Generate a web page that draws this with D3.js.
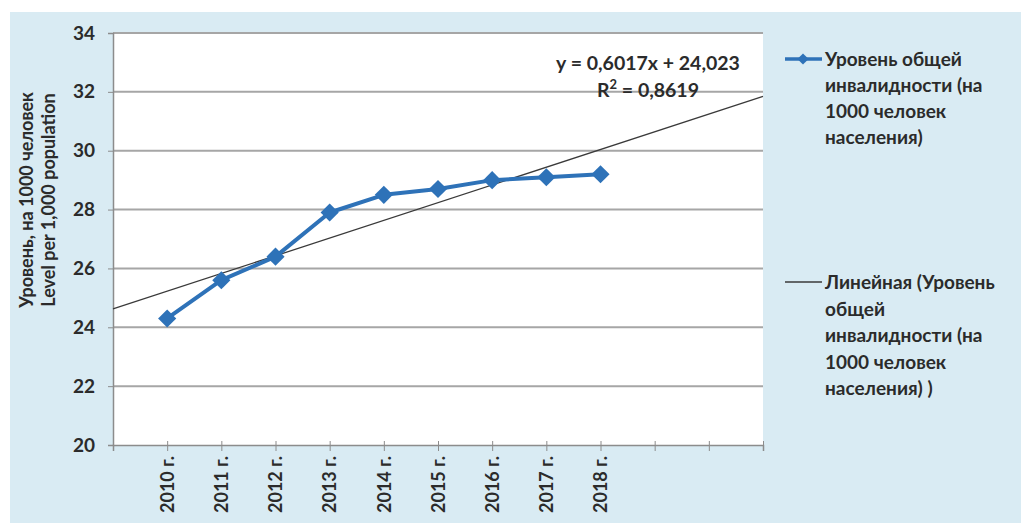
<!DOCTYPE html>
<html>
<head>
<meta charset="utf-8">
<script src="https://cdn.jsdelivr.net/npm/d3@7"></script>
<style>
  html, body { margin: 0; padding: 0; background: #ffffff; }
  svg { display: block; }
  text { font-family: Lato, "Noto Sans", sans-serif; fill: #2b2b2b; }
</style>
</head>
<body>
<svg id="chart" width="1021" height="523"></svg>
<script>
// Categories along the x axis (two trailing slots are empty)
const categories = ["2010 г.", "2011 г.", "2012 г.", "2013 г.", "2014 г.", "2015 г.", "2016 г.", "2017 г.", "2018 г.", "", ""];
// Overall disability level per 1000 population
const values = [24.3, 25.6, 26.4, 27.9, 28.5, 28.7, 29.0, 29.1, 29.2];
// Linear trend y = a*x + b, as printed on the chart
const trendSlope = 0.6017;
const trendIntercept = 24.023;
const trendR2 = 0.8619;
const yTicks = [20, 22, 24, 26, 28, 30, 32, 34];
const yTitle = ["Уровень, на 1000 человек", "Level per 1,000 population"];
const legendSeries = ["Уровень общей", "инвалидности (на", "1000 человек", "населения)"];
const legendTrend = ["Линейная (Уровень", "общей", "инвалидности (на", "1000 человек", "населения) )"];

const svg = d3.select("#chart");
const W = 1021, H = 523;
const plot = { left: 113, right: 763, top: 33, bottom: 445 };
const blue = "#2e72b8";
const font = "Lato, 'Noto Sans', sans-serif";

// panel background
svg.append("rect").attr("x", 10).attr("y", 12).attr("width", W - 10).attr("height", H - 12)
  .attr("fill", "#d9ebf3");
svg.append("rect").attr("x", plot.left).attr("y", plot.top)
  .attr("width", plot.right - plot.left).attr("height", plot.bottom - plot.top)
  .attr("fill", "#ffffff");

// positions 0..12 along the axis; data sits on slots 1..9
const x = d3.scaleLinear().domain([0, categories.length + 1]).range([plot.left, plot.right]);
const y = d3.scaleLinear().domain([20, 34]).range([plot.bottom, plot.top]);

// horizontal gridlines
svg.append("g").selectAll("line").data(yTicks.filter(t => t > 20)).join("line")
  .attr("x1", plot.left).attr("x2", plot.right)
  .attr("y1", d => y(d)).attr("y2", d => y(d))
  .attr("stroke", "#a6a6a6").attr("stroke-width", 2);

// y axis
const yAxis = svg.append("g").attr("transform", `translate(${plot.left},0)`)
  .call(d3.axisLeft(y).tickValues(yTicks).tickSize(5).tickPadding(13));
yAxis.select(".domain").attr("stroke", "#8c8c8c").attr("stroke-width", 1.5);
yAxis.selectAll(".tick line").attr("stroke", "#8c8c8c");
yAxis.selectAll(".tick text").attr("font-size", 19).attr("font-weight", "bold")
  .style("font-family", font).attr("fill", "#333");

// x axis with a tick at each category slot
const tickIdx = d3.range(1, categories.length + 2);
const xAxis = svg.append("g").attr("transform", `translate(0,${plot.bottom})`)
  .call(d3.axisBottom(x).tickValues(tickIdx).tickSize(6)
    .tickFormat(i => categories[i - 1] || ""));
xAxis.select(".domain").attr("stroke", "#8c8c8c").attr("stroke-width", 1.5);
xAxis.selectAll(".tick line").attr("stroke", "#8c8c8c").attr("y1", -4);
xAxis.selectAll(".tick text")
  .attr("font-size", 18).attr("font-weight", "bold")
  .style("font-family", font).attr("fill", "#2b2b2b")
  .attr("text-anchor", "end").attr("dy", "0.35em")
  .attr("transform", "translate(0,11) rotate(-90)").attr("x", 0).attr("y", 0);

// y axis title
const yt = svg.append("text").attr("transform", "translate(33,200) rotate(-90)")
  .attr("text-anchor", "middle").attr("font-size", 18).attr("font-weight", "bold");
yTitle.forEach((t, i) => yt.append("tspan").attr("x", 0).attr("dy", i === 0 ? 0 : 22).text(t));

// trend line across the whole plot (trend x = slot + 1)
const trend = d => trendSlope * (d + 1) + trendIntercept;
const trendEnds = [0, categories.length + 1];
svg.append("line")
  .attr("x1", x(trendEnds[0])).attr("y1", y(trend(trendEnds[0])))
  .attr("x2", x(trendEnds[1])).attr("y2", y(trend(trendEnds[1])))
  .attr("stroke", "#3a3a3a").attr("stroke-width", 1.3);

// data line and diamond markers
const pts = values.map((v, i) => [i + 1, v]);
svg.append("path").datum(pts)
  .attr("d", d3.line().x(d => x(d[0])).y(d => y(d[1])))
  .attr("fill", "none").attr("stroke", blue).attr("stroke-width", 4).attr("stroke-linejoin", "round");
const diamond = d3.symbol().type(d3.symbolDiamond2).size(210);
svg.append("g").selectAll("path").data(pts).join("path")
  .attr("transform", d => `translate(${x(d[0])},${y(d[1])})`)
  .attr("d", diamond).attr("fill", blue);

// regression label
const eq = svg.append("g").attr("font-size", 19.5).attr("font-weight", "bold");
eq.append("text").attr("x", 648).attr("y", 70).attr("text-anchor", "middle")
  .style("font-family", font)
  .text(`y = ${String(trendSlope).replace(".", ",")}x + ${String(trendIntercept).replace(".", ",")}`);
const r2 = eq.append("text").attr("x", 648).attr("y", 97).attr("text-anchor", "middle")
  .style("font-family", font);
r2.append("tspan").text("R");
r2.append("tspan").attr("font-size", 13).attr("dy", -8).text("2");
r2.append("tspan").attr("dy", 8).text(` = ${String(trendR2).replace(".", ",")}`);

// legend
const leg = svg.append("g");
leg.append("line").attr("x1", 785).attr("x2", 822).attr("y1", 59).attr("y2", 59)
  .attr("stroke", blue).attr("stroke-width", 3.5);
leg.append("path").attr("transform", "translate(803,59)")
  .attr("d", d3.symbol().type(d3.symbolDiamond2).size(80)).attr("fill", blue);
const lt1 = leg.append("text").attr("x", 825).attr("y", 66).attr("font-size", 19).attr("font-weight", "bold");
legendSeries.forEach((t, i) => lt1.append("tspan").attr("x", 825).attr("dy", i === 0 ? 0 : 26).text(t));

leg.append("line").attr("x1", 785).attr("x2", 822).attr("y1", 282).attr("y2", 282)
  .attr("stroke", "#3a3a3a").attr("stroke-width", 1.5);
const lt2 = leg.append("text").attr("x", 825).attr("y", 289).attr("font-size", 19).attr("font-weight", "bold");
legendTrend.forEach((t, i) => lt2.append("tspan").attr("x", 825).attr("dy", i === 0 ? 0 : 26.5).text(t));
</script>
</body>
</html>
